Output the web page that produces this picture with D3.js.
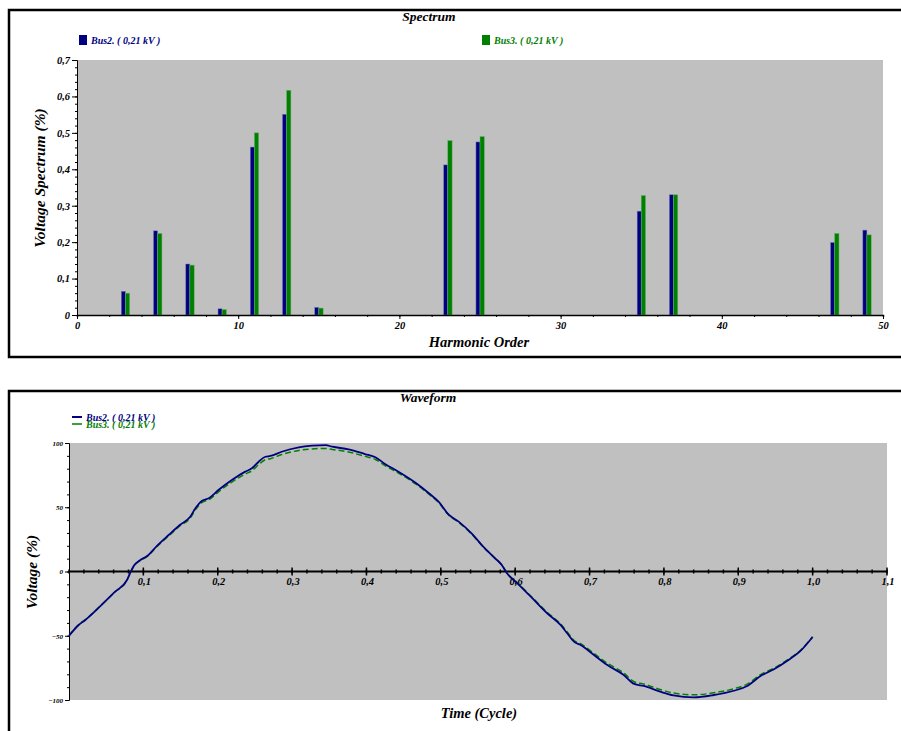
<!DOCTYPE html>
<html>
<head>
<meta charset="utf-8">
<script src="https://cdn.jsdelivr.net/npm/d3@7"></script>
<style>
  body { margin: 0; background: #fff; }
  svg text { font-family: "Liberation Serif", "Times New Roman", serif; font-weight: bold; font-style: italic; }
  .axis path, .axis line { stroke: #000; }
</style>
</head>
<body>
<svg id="chart" width="901" height="731"></svg>
<script>
// Spectrum data (harmonic order -> voltage %)
const harmonics = [3, 5, 7, 9, 11, 13, 15, 23, 25, 35, 37, 47, 49];
const bus2Spectrum = [0.065, 0.231, 0.140, 0.017, 0.461, 0.551, 0.021, 0.412, 0.475, 0.285, 0.330, 0.199, 0.233];
const bus3Spectrum = [0.060, 0.224, 0.137, 0.015, 0.500, 0.617, 0.019, 0.479, 0.490, 0.328, 0.330, 0.224, 0.220];

// Waveform data (time in cycles -> voltage %)
const timeCycle = [0, 0.013, 0.022, 0.039, 0.062, 0.078, 0.082, 0.087, 0.096, 0.105, 0.118, 0.134, 0.149, 0.163,
  0.170, 0.179, 0.188, 0.201, 0.219, 0.237, 0.246, 0.255, 0.264, 0.271, 0.286, 0.309, 0.327, 0.345, 0.354,
  0.376, 0.398, 0.412, 0.425, 0.443, 0.466, 0.484, 0.497, 0.511, 0.524, 0.542, 0.556, 0.573, 0.582, 0.589,
  0.603, 0.621, 0.643, 0.661, 0.670, 0.679, 0.688, 0.706, 0.724, 0.746, 0.760, 0.773, 0.795, 0.813, 0.840,
  0.867, 0.894, 0.912, 0.930, 0.948, 0.966, 0.984, 1.0];
const bus2Wave = [-50, -41.6, -37.7, -28.7, -15.7, -6.6, -1.4, 4.3, 9, 12, 19.8, 28.4, 36.2, 42.6,
  49.2, 55.1, 57, 63.4, 71.2, 77.7, 80.3, 85.4, 89.3, 89.9, 93.2, 96.6, 97.9, 98.4, 97.1,
  95.1, 91.4, 88.9, 83.7, 77.7, 69.1, 60.9, 54.3, 44, 38.8, 29.2, 20, 10.3, 5.1, -1.4,
  -9.2, -19.6, -32.5, -41.6, -48.1, -54.6, -57.2, -65, -72.8, -80.5, -87.5, -89.1, -93.5, -96.4, -97.9,
  -96.1, -92.8, -89.1, -81.3, -76.1, -69.4, -61.6, -51];
const bus3Wave = [-50, -41.2, -37.5, -28.5, -15.8, -6.8, -1.8, 3.8, 8.6, 11.6, 19.2, 27.6, 35.4, 41.6,
  48, 53.8, 55.8, 62, 69.6, 75.8, 78.4, 83.2, 87, 87.8, 91, 94.2, 95.4, 95.8, 95,
  93, 89.6, 87.2, 82.4, 76.6, 68.2, 60.2, 53.6, 43.6, 38.2, 28.8, 19.8, 10.2, 5.0, -1.2,
  -8.8, -19, -31.8, -40.8, -47, -53.6, -56.2, -63.8, -71.4, -79, -85.8, -87.6, -91.8, -94.6, -96.0,
  -94.4, -91.2, -87.6, -80.2, -75.2, -68.8, -61.2, -50.8];

const seriesNames = ['Bus2. ( 0,21 kV )', 'Bus3. ( 0,21 kV )'];
const colors = { bus2: '#000080', bus3: '#008000', plot: '#c0c0c0' };

const comma = d => d3.format('.1f')(d).replace('.', ',');
const svg = d3.select('#chart');

// ---------- Spectrum panel ----------
svg.append('rect').attr('x', 9).attr('y', 10).attr('width', 900).attr('height', 347)
  .attr('fill', 'none').attr('stroke', '#000').attr('stroke-width', 2.5);

const sp = { left: 77, right: 883, top: 60, bottom: 315 };
const xS = d3.scaleLinear().domain([0, 50]).range([sp.left, sp.right]);
const yS = d3.scaleLinear().domain([0, 0.7]).range([sp.bottom, sp.top]);

svg.append('rect').attr('x', sp.left).attr('y', sp.top)
  .attr('width', sp.right - sp.left).attr('height', sp.bottom - sp.top).attr('fill', colors.plot);

svg.append('text').attr('x', 429).attr('y', 21).attr('text-anchor', 'middle')
  .attr('font-size', 13.5).text('Spectrum');

// legend
svg.append('rect').attr('x', 79).attr('y', 35).attr('width', 8).attr('height', 10).attr('fill', colors.bus2);
svg.append('text').attr('x', 91).attr('y', 44).attr('font-size', 10).attr('fill', colors.bus2).text(seriesNames[0]);
svg.append('rect').attr('x', 482).attr('y', 35).attr('width', 8).attr('height', 10).attr('fill', colors.bus3);
svg.append('text').attr('x', 494).attr('y', 44).attr('font-size', 10).attr('fill', colors.bus3).text(seriesNames[1]);

// bars
const barData = harmonics.map((h, i) => ({ h, b2: bus2Spectrum[i], b3: bus3Spectrum[i] }));
const gBars = svg.append('g');
gBars.selectAll('.b2').data(barData).join('rect').attr('class', 'b2')
  .attr('x', d => xS(d.h - 0.25)).attr('width', d => xS(d.h) - xS(d.h - 0.25))
  .attr('y', d => yS(d.b2)).attr('height', d => yS(0) - yS(d.b2))
  .attr('fill', colors.bus2).attr('stroke', '#7070b8').attr('stroke-width', 0.5);
gBars.selectAll('.b3').data(barData).join('rect').attr('class', 'b3')
  .attr('x', d => xS(d.h)).attr('width', d => xS(d.h + 0.27) - xS(d.h))
  .attr('y', d => yS(d.b3)).attr('height', d => yS(0) - yS(d.b3))
  .attr('fill', colors.bus3).attr('stroke', '#70b070').attr('stroke-width', 0.5);

// axes
const spAxisFont = g => g.selectAll('text').attr('font-size', 10.5)
  .style('font-family', '"Liberation Serif", serif').style('font-weight', 'bold').style('font-style', 'italic');

svg.append('g').attr('class', 'axis').attr('transform', `translate(0,${sp.bottom})`)
  .call(d3.axisBottom(xS).tickValues(d3.range(0, 51, 2)).tickSize(2).tickFormat(''))
  .call(g => g.select('.domain').attr('stroke-width', 1.5));
svg.append('g').attr('class', 'axis').attr('transform', `translate(0,${sp.bottom})`)
  .call(d3.axisBottom(xS).tickValues(d3.range(0, 51, 10)).tickSize(4).tickPadding(3).tickFormat(d3.format('d')))
  .call(g => g.select('.domain').remove())
  .call(spAxisFont);

svg.append('g').attr('class', 'axis').attr('transform', `translate(${sp.left},0)`)
  .call(d3.axisLeft(yS).tickValues(d3.range(0, 0.701, 0.02)).tickSize(2).tickFormat(''))
  .call(g => g.select('.domain').attr('stroke-width', 1));
svg.append('g').attr('class', 'axis').attr('transform', `translate(${sp.left},0)`)
  .call(d3.axisLeft(yS).tickValues(d3.range(0, 0.701, 0.1)).tickSize(5).tickPadding(2)
    .tickFormat(d => d < 1e-9 ? '0' : comma(d)))
  .call(g => g.select('.domain').remove())
  .call(spAxisFont);

svg.append('text').attr('x', 479).attr('y', 347).attr('text-anchor', 'middle')
  .attr('font-size', 14.5).text('Harmonic Order');
svg.append('text').attr('transform', 'translate(45,178) rotate(-90)').attr('text-anchor', 'middle')
  .attr('font-size', 15.5).text('Voltage Spectrum (%)');

// ---------- Waveform panel ----------
svg.append('rect').attr('x', 9).attr('y', 391).attr('width', 900).attr('height', 400)
  .attr('fill', 'none').attr('stroke', '#000').attr('stroke-width', 2.5);

const wp = { left: 69, right: 887, top: 443, bottom: 700 };
const xW = d3.scaleLinear().domain([0, 1.1]).range([wp.left, wp.right]);
const yW = d3.scaleLinear().domain([-100, 100]).range([wp.bottom, wp.top]);

svg.append('rect').attr('x', wp.left).attr('y', wp.top)
  .attr('width', wp.right - wp.left).attr('height', wp.bottom - wp.top).attr('fill', colors.plot);

svg.append('text').attr('x', 428).attr('y', 402).attr('text-anchor', 'middle')
  .attr('font-size', 13.5).text('Waveform');

// legend (the two entries overlap in the original export)
svg.append('line').attr('x1', 72).attr('x2', 82).attr('y1', 417).attr('y2', 417)
  .attr('stroke', colors.bus2).attr('stroke-width', 2);
svg.append('text').attr('x', 86).attr('y', 421).attr('font-size', 10).attr('fill', colors.bus2).text(seriesNames[0]);
svg.append('line').attr('x1', 72).attr('x2', 82).attr('y1', 424).attr('y2', 424)
  .attr('stroke', colors.bus3).attr('stroke-width', 1.5);
svg.append('text').attr('x', 86).attr('y', 428).attr('font-size', 10).attr('fill', colors.bus3).text(seriesNames[1]);

// y axis
const smallFont = g => g.selectAll('text').attr('font-size', 7)
  .style('font-family', '"Liberation Serif", serif');
svg.append('g').attr('class', 'axis').attr('transform', `translate(${wp.left},0)`)
  .call(d3.axisLeft(yW).tickValues(d3.range(-100, 101, 10)).tickSize(2).tickFormat(''))
  .call(g => g.select('.domain').attr('stroke-width', 1));
svg.append('g').attr('class', 'axis').attr('transform', `translate(${wp.left},0)`)
  .call(d3.axisLeft(yW).tickValues([-100, -50, 0, 50, 100]).tickSize(4).tickPadding(2).tickFormat(d3.format('d')))
  .call(g => g.select('.domain').remove())
  .call(smallFont);

// x axis through zero
const zeroY = yW(0);
svg.append('line').attr('x1', wp.left).attr('x2', wp.right).attr('y1', zeroY).attr('y2', zeroY)
  .attr('stroke', '#000').attr('stroke-width', 2);
svg.append('g').selectAll('line').data(d3.range(0, 1.1001, 0.02)).join('line')
  .attr('x1', d => xW(d)).attr('x2', d => xW(d))
  .attr('y1', zeroY - 2).attr('y2', zeroY + 2).attr('stroke', '#000').attr('stroke-width', 1.5);
svg.append('g').selectAll('line').data(d3.range(1, 12).map(d => d / 10)).join('line')
  .attr('x1', d => xW(d)).attr('x2', d => xW(d))
  .attr('y1', zeroY - 4).attr('y2', zeroY + 4).attr('stroke', '#000').attr('stroke-width', 1.5);
svg.append('g').selectAll('text').data(d3.range(1, 12).map(d => d / 10)).join('text')
  .attr('x', d => xW(d) + 1).attr('y', zeroY + 13).attr('text-anchor', 'middle')
  .attr('font-size', 10.5).text(d => comma(d));

// curves
const line = d3.line().x(d => xW(d[0])).y(d => yW(d[1])).curve(d3.curveMonotoneX);
svg.append('path').datum(timeCycle.map((t, i) => [t, bus3Wave[i]]))
  .attr('d', line).attr('fill', 'none').attr('stroke', colors.bus3).attr('stroke-width', 1.5)
  .attr('stroke-dasharray', '6,3');
svg.append('path').datum(timeCycle.map((t, i) => [t, bus2Wave[i]]))
  .attr('d', line).attr('fill', 'none').attr('stroke', colors.bus2).attr('stroke-width', 1.8);

svg.append('text').attr('x', 479).attr('y', 718).attr('text-anchor', 'middle')
  .attr('font-size', 14.5).text('Time (Cycle)');
svg.append('text').attr('transform', 'translate(37,572) rotate(-90)').attr('text-anchor', 'middle')
  .attr('font-size', 15.5).text('Voltage (%)');
</script>
</body>
</html>
